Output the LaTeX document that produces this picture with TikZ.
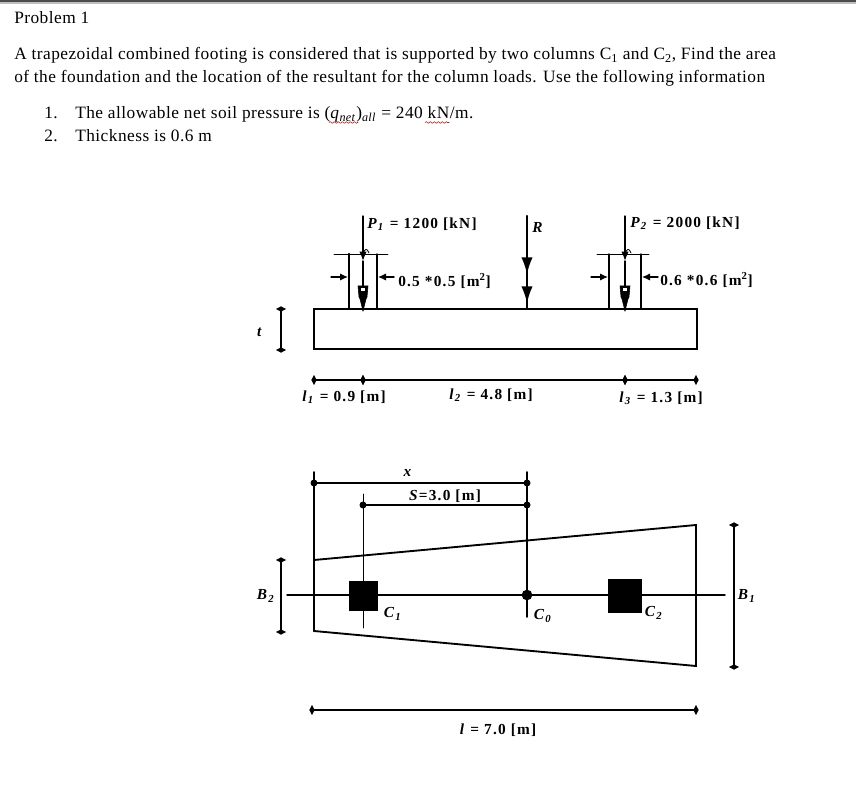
\documentclass[tikz,border=0pt]{standalone}
\usepackage{fontspec}
\setmainfont{Liberation Serif}
\newfontfamily\bodyfont[LetterSpace=2.7]{Liberation Serif}
\newfontfamily\drawfont[LetterSpace=8]{Liberation Serif}
\usetikzlibrary{arrows.meta,calc}
\usetikzlibrary{decorations.pathmorphing}

% italic letter with italic index, for the labels of the drawing
\newcommand{\varsub}[2]{\textit{#1}\textsubscript{\textit{#2}}}

\tikzset{
    bodytext/.style={anchor=base west,inner sep=0pt,font=\fontsize{13pt}{15pt}\bodyfont},
    drawtext/.style={inner sep=0pt,font=\fontsize{11.5pt}{13pt}\drawfont\bfseries},
    dimline/.style={line width=1.1pt,{Diamond[length=4pt,width=7.5pt]}-{Diamond[length=4pt,width=7.5pt]},shorten <=-2pt,shorten >=-2pt},
    leaderline/.style={line width=1pt,-{Latex[length=6pt,width=5.5pt]}},
    loadline/.style={line width=1.2pt,-{Latex[length=12.5pt,width=8.5pt]}},
    squiggle/.style={red!75!black,line width=0.4pt,decorate,decoration={snake,amplitude=0.6pt,segment length=3pt}}
}

\begin{document}
\begin{tikzpicture}[x=0.75pt,y=-0.75pt,line cap=round,>=latex]
        \useasboundingbox (0,0) rectangle (856,791);

        % draw the window edge
        \fill[black!70] (0,0) rectangle (856,2.5);
        \fill[black!25] (0,2.5) rectangle (856,4.5);

        % draw the problem text
        \node[bodytext] (title) at (14,23.5) {Problem 1};
        \node[bodytext] (lineone) at (14,59.7) {A trapezoidal combined footing is considered that is supported by two columns C\textsubscript{1} and C\textsubscript{2}, Find the area};
        \node[bodytext] (linetwo) at (14,82.7) {of the foundation and the location of the resultant for the column loads. Use the following information};
        \node[bodytext] (numone) at (44,118.7) {1.};
        \node[bodytext] (itemone) at (75,118.7) {The allowable net soil pressure is (\textit{q}\textsubscript{\textit{net}})\textsubscript{\textit{all}} = 240 kN/m.};
        \node[bodytext] (numtwo) at (44,141.7) {2.};
        \node[bodytext] (itemtwo) at (75,141.7) {Thickness is 0.6 m};

        % draw the spelling marks
        \draw[squiggle] (329,122.5) -- (358,122.5);
        \draw[squiggle] (425,122.5) -- (449,122.5);

        % draw the footing in section
        \coordinate (sectop) at (314,309);
        \draw[line width=1.1pt] (sectop) rectangle (697,349);
        \draw[line width=1.8pt] (314,309) -- (314,349);

        % draw the two columns and their width marks
        \foreach \name/\xl/\xr/\xc/\xa/\xb in {
            one/349/377/363/334/388,
            two/609/641/625/597/649} {
                \coordinate (\name tl) at (\xl,254);
                \coordinate (\name bl) at (\xl,309);
                \coordinate (\name tr) at (\xr,254);
                \coordinate (\name br) at (\xr,309);
                \draw[line width=1pt] (\name tl) -- (\name bl);
                \draw[line width=1pt] (\name tr) -- (\name br);
                \draw[line width=0.6pt] (\xa,254) -- (\xb,254);
                \draw[leaderline] (\xl-18,277) -- (\xl-1,277);
                \draw[leaderline] (\xr+17,277) -- (\xr+1,277);
                % small hook beside the load
                \draw[line width=0.6pt] (\xc,254) .. controls (\xc+2,248) and (\xc+4,248) .. (\xc+6,253);
                % load with its heads
                \draw[line width=1pt,-{Latex[length=7pt,width=5.5pt]}] (\xc,216) -- (\xc,261);
                \draw[line width=1pt] (\xc,261) -- (\xc,310);
                \draw[fill=black,line width=0.4pt] (\xc-5,286) -- (\xc+5,286) -- (\xc+4,297) -- (\xc+3,299) -- (\xc,311) -- (\xc-3,299) -- (\xc-4,297) -- cycle;
                \fill[white] (\xc-2,288) rectangle (\xc+2,291);
        }
        \draw[line width=1.6pt] (onetl) -- (onebl);

        % draw the resultant with two heads
        \coordinate (rtop) at (527,216);
        \coordinate (rhead) at (527,274);
        \coordinate (rfoot) at (527,303);
        \coordinate (rbase) at (527,309);
        \draw[line width=1.2pt] (rtop) -- (rbase);
        \draw[loadline] (rtop) -- (rhead);
        \draw[loadline] (rhead) -- (rfoot);

        % draw the labels of the section
        \node[drawtext,anchor=west] (pone) at (367,224) {\varsub{P}{1} = 1200 [kN]};
        \node[drawtext,anchor=west] (rlabel) at (532,227) {\textit{R}};
        \node[drawtext,anchor=west] (ptwo) at (630,223) {\varsub{P}{2} = 2000 [kN]};
        \node[drawtext,anchor=west] (sizeone) at (398,281) {0.5 *0.5 [m\textsuperscript{2}]};
        \node[drawtext,anchor=west] (sizetwo) at (660,280) {0.6 *0.6 [m\textsuperscript{2}]};

        % draw the thickness mark
        \coordinate (ttop) at (281,309);
        \coordinate (tbot) at (281,350);
        \draw[dimline] (ttop) -- (tbot);
        \node[drawtext] (tlabel) at (260,332) {\textit{t}};

        % draw the marks below the section
        \coordinate (mone) at (314,380);
        \coordinate (mtwo) at (363,380);
        \coordinate (mthree) at (625,380);
        \coordinate (mfour) at (696,380);
        \draw[dimline] (mone) -- (mtwo);
        \draw[dimline] (mtwo) -- (mthree);
        \draw[dimline] (mthree) -- (mfour);
        \node[drawtext] (lone) at (344,397) {\varsub{l}{1} = 0.9 [m]};
        \node[drawtext] (ltwo) at (491,395) {\varsub{l}{2} = 4.8 [m]};
        \node[drawtext] (lthree) at (661,398) {\varsub{l}{3} = 1.3 [m]};

        % draw the trapezoid in plan
        \coordinate (ptl) at (314,560);
        \coordinate (ptr) at (696,525);
        \coordinate (pbr) at (696,666);
        \coordinate (pbl) at (314,631);
        \draw[line width=1.4pt] (ptl) -- (ptr) -- (pbr) -- (pbl);
        \draw[line width=1.8pt] (pbl) -- (ptl);

        % draw the centre line, the columns and the centroid
        \coordinate (axisl) at (287,595);
        \coordinate (axisr) at (725,595);
        \draw[line width=1.1pt] (axisl) -- (axisr);
        \node[fill=black,minimum width=21.5pt,minimum height=22.5pt,inner sep=0pt] (cone) at (363.5,595.5) {};
        \node[fill=black,minimum width=26pt,minimum height=26pt,inner sep=0pt] (ctwo) at (625,596) {};
        \node[circle,fill=black,minimum size=8pt,inner sep=0pt] (cdot) at (527,595) {};

        % draw the witness lines and the marks above the plan
        \coordinate (wl) at (314,472);
        \coordinate (wc) at (527,472);
        \coordinate (wcb) at (527,617);
        \coordinate (ws) at (363,494);
        \coordinate (wsb) at (363,628);
        \coordinate (xleft) at (314,483);
        \coordinate (xright) at (527,483);
        \coordinate (sleft) at (363,505);
        \coordinate (sright) at (527,505);
        \draw[line width=1.2pt] (wl) -- (ptl);
        \draw[line width=1.2pt] (wc) -- (wcb);
        \draw[line width=0.7pt] (ws) -- (wsb);
        \draw[line width=1.1pt] (xleft) -- (xright);
        \draw[line width=1.1pt] (sleft) -- (sright);
        \foreach \mark in {xleft,xright,sleft,sright}
                \fill (\mark) circle (3.5);

        \node[drawtext] (xlabel) at (408,473) {\textit{x}};
        \node[drawtext] (slabel) at (445,496) {\textit{S}=3.0 [m]};

        % draw the widths and the length
        \coordinate (btwotop) at (281,560);
        \coordinate (btwobot) at (281,632);
        \coordinate (bonetop) at (734,525);
        \coordinate (bonebot) at (734,667);
        \coordinate (lenl) at (312,710);
        \coordinate (lenr) at (696,710);
        \draw[dimline] (btwotop) -- (btwobot);
        \draw[dimline] (bonetop) -- (bonebot);
        \draw[dimline] (lenl) -- (lenr);

        \node[drawtext] (btwo) at (266,596) {\varsub{B}{2}};
        \node[drawtext] (bone) at (747,596) {\varsub{B}{1}};
        \node[drawtext] (clabone) at (393,614) {\varsub{C}{1}};
        \node[drawtext] (clabzero) at (543,616) {\varsub{C}{0}};
        \node[drawtext] (clabtwo) at (654,613) {\varsub{C}{2}};
        \node[drawtext] (length) at (498,730) {\textit{l} = 7.0 [m]};
\end{tikzpicture}
\end{document}
